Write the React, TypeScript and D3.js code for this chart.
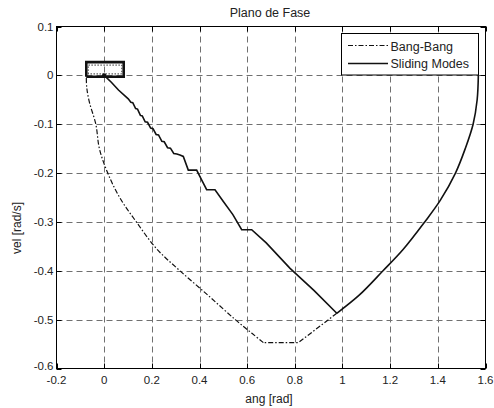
import React from "react";
import * as d3 from "d3";

const xTicks = [-0.2, 0, 0.2, 0.4, 0.6, 0.8, 1, 1.2, 1.4, 1.6];
const yTicks = [0.1, 0, -0.1, -0.2, -0.3, -0.4, -0.5, -0.6];
const xTickLabels = ["-0.2", "0", "0.2", "0.4", "0.6", "0.8", "1", "1.2", "1.4", "1.6"];
const yTickLabels = ["0.1", "0", "-0.1", "-0.2", "-0.3", "-0.4", "-0.5", "-0.6"];

// Shared approach arc (from pi/2, 0)
const approachAng = [1.57, 1.565, 1.548, 1.515, 1.474, 1.41, 1.345, 1.255, 1.17, 1.07, 0.976];
const approachVel = [0.0, -0.05, -0.1, -0.15, -0.2, -0.256, -0.3, -0.356, -0.4, -0.45, -0.487];

// Bang-Bang: straight part to the velocity limit
const bangLimAng = [0.976, 0.815, 0.668];
const bangLimVel = [-0.487, -0.547, -0.547];
// Bang-Bang: deceleration arc back to the overshoot
const bangDecAng = [0.668, 0.62, 0.55, 0.44, 0.318, 0.22, 0.135, 0.065, 0.015, -0.02, -0.035, -0.062, -0.073, -0.075];
const bangDecVel = [-0.547, -0.528, -0.5, -0.452, -0.4, -0.355, -0.3, -0.25, -0.2, -0.15, -0.1, -0.055, -0.025, 0.0];

// Sliding Modes continuation
const slideAng = [0.976, 0.88, 0.78, 0.68, 0.619, 0.577, 0.54, 0.5, 0.465, 0.43, 0.41, 0.388, 0.353, 0.332, 0.318,
  0.305, 0.292, 0.278, 0.266, 0.252, 0.242, 0.228, 0.218, 0.205, 0.195, 0.182, 0.172, 0.16, 0.152, 0.14, 0.132, 0.12, 0.112, 0.101, 0.06, 0.03, 0.0];
const slideVel = [-0.487, -0.44, -0.395, -0.343, -0.316, -0.316, -0.285, -0.258, -0.234, -0.234, -0.215, -0.194, -0.194, -0.166, -0.163,
  -0.161, -0.16, -0.149, -0.148, -0.136, -0.135, -0.122, -0.121, -0.109, -0.108, -0.096, -0.095, -0.083, -0.082, -0.069, -0.068, -0.056, -0.055, -0.048, -0.03, -0.014, 0.0];

// Chattering cycle near origin
const chatterAng = [-0.075, -0.075, 0.082, 0.082, -0.075];
const chatterVel = [-0.003, 0.027, 0.027, -0.003, -0.003];

const W = 494, H = 408;
const L = 56.5, R = 485.5, T = 26.5, B = 368.5;
const FONT = "'Liberation Sans', Arial, Helvetica, sans-serif";

type P = [number, number];
const zip = (a: number[], b: number[]): P[] => a.map((v, i) => [v, b[i]] as P);

export default function App() {
  const x = d3.scaleLinear().domain([-0.2, 1.6]).range([L, R]);
  const y = d3.scaleLinear().domain([-0.6, 0.1]).range([B, T]);
  const smooth = d3.line<P>().x(d => x(d[0])).y(d => y(d[1])).curve(d3.curveCatmullRom.alpha(0.5));
  const line = d3.line<P>().x(d => x(d[0])).y(d => y(d[1]));

  const approach = zip(approachAng, approachVel);
  const bangLim = zip(bangLimAng, bangLimVel);
  const bangDec = zip(bangDecAng, bangDecVel);
  const slideTail = zip(slideAng, slideVel);
  const chatter = zip(chatterAng, chatterVel);
  const chatterInner: P[] = chatterAng.map((a, i) => [a + (i === 0 || i === 1 || i === 4 ? 0.008 : -0.008), chatterVel[i] + (i === 1 || i === 2 ? -0.006 : 0.006)] as P);

  const dashDot = "5,2,1.5,2";

  return (
    <svg width={W} height={H} style={{ position: "absolute", left: 0, top: 0, background: "#fff" }}>
      <rect x={0} y={0} width={W} height={H} fill="#fff" />
      <defs>
        <clipPath id="plot">
          <rect x={L} y={T} width={R - L} height={B - T} />
        </clipPath>
      </defs>
      {/* grid */}
      <g stroke="#707070" strokeWidth={1} strokeDasharray="6,4">
        {xTicks.slice(1, -1).map((t, i) => (
          <line key={"gx" + i} x1={Math.round(x(t)) + 0.5} x2={Math.round(x(t)) + 0.5} y1={T} y2={B} />
        ))}
        {yTicks.slice(1, -1).map((t, i) => (
          <line key={"gy" + i} x1={L} x2={R} y1={Math.round(y(t)) + 0.5} y2={Math.round(y(t)) + 0.5} />
        ))}
      </g>
      <g clipPath="url(#plot)" fill="none">
        <path d={smooth(approach) || ""} stroke="#111" strokeWidth={1.6} />
        <path d={line(bangLim) || ""} stroke="#111" strokeWidth={1.2} strokeDasharray={dashDot} />
        <path d={smooth(bangDec) || ""} stroke="#111" strokeWidth={1.2} strokeDasharray={dashDot} />
        <path d={line(slideTail) || ""} stroke="#111" strokeWidth={1.6} />
        <path d={line(chatter) || ""} stroke="#111" strokeWidth={2.6} />
        <path d={line(chatterInner) || ""} stroke="#333" strokeWidth={1} strokeDasharray="1.5,1.5" />
        <circle cx={x(0)} cy={y(0)} r={2.2} fill="#111" />
      </g>
      {/* axes frame */}
      <rect x={L} y={T} width={R - L} height={B - T} fill="none" stroke="#000" strokeWidth={1} />
      <g stroke="#000" strokeWidth={1}>
        {xTicks.map((t, i) => (
          <g key={"tx" + i}>
            <line x1={Math.round(x(t)) + 0.5} x2={Math.round(x(t)) + 0.5} y1={B} y2={B - 5} />
            <line x1={Math.round(x(t)) + 0.5} x2={Math.round(x(t)) + 0.5} y1={T} y2={T + 5} />
          </g>
        ))}
        {yTicks.map((t, i) => (
          <g key={"ty" + i}>
            <line x1={L} x2={L + 5} y1={Math.round(y(t)) + 0.5} y2={Math.round(y(t)) + 0.5} />
            <line x1={R} x2={R - 5} y1={Math.round(y(t)) + 0.5} y2={Math.round(y(t)) + 0.5} />
          </g>
        ))}
      </g>
      {/* tick labels */}
      <g fontFamily={FONT} fontSize={11.5} fill="#222">
        {xTicks.map((t, i) => (
          <text key={"lx" + i} x={x(t)} y={B + 15} textAnchor="middle">{xTickLabels[i]}</text>
        ))}
        {yTicks.map((t, i) => (
          <text key={"ly" + i} x={L - 3} y={y(t) + 4 - (i === yTicks.length - 1 ? 3 : 0)} textAnchor="end">{yTickLabels[i]}</text>
        ))}
      </g>
      {/* labels */}
      <text x={270} y={16.5} textAnchor="middle" fontFamily={FONT} fontSize={12.5} fill="#222">Plano de Fase</text>
      <text x={269} y={403} textAnchor="middle" fontFamily={FONT} fontSize={12} fill="#222">ang [rad]</text>
      <text transform={`translate(21,228) rotate(-90)`} textAnchor="middle" fontFamily={FONT} fontSize={12} fill="#222">vel [rad/s]</text>
      {/* legend */}
      <g>
        <rect x={341.5} y={33.5} width={137} height={41.5} fill="#fff" stroke="#000" strokeWidth={1} />
        <line x1={348} x2={388} y1={45.5} y2={45.5} stroke="#111" strokeWidth={1.2} strokeDasharray={dashDot} />
        <line x1={348} x2={388} y1={63.5} y2={63.5} stroke="#111" strokeWidth={1.6} />
        <text x={390.5} y={50.5} fontFamily={FONT} fontSize={12.5} fill="#222">Bang-Bang</text>
        <text x={390.5} y={68.3} fontFamily={FONT} fontSize={12.5} fill="#222">Sliding Modes</text>
      </g>
    </svg>
  );
}
